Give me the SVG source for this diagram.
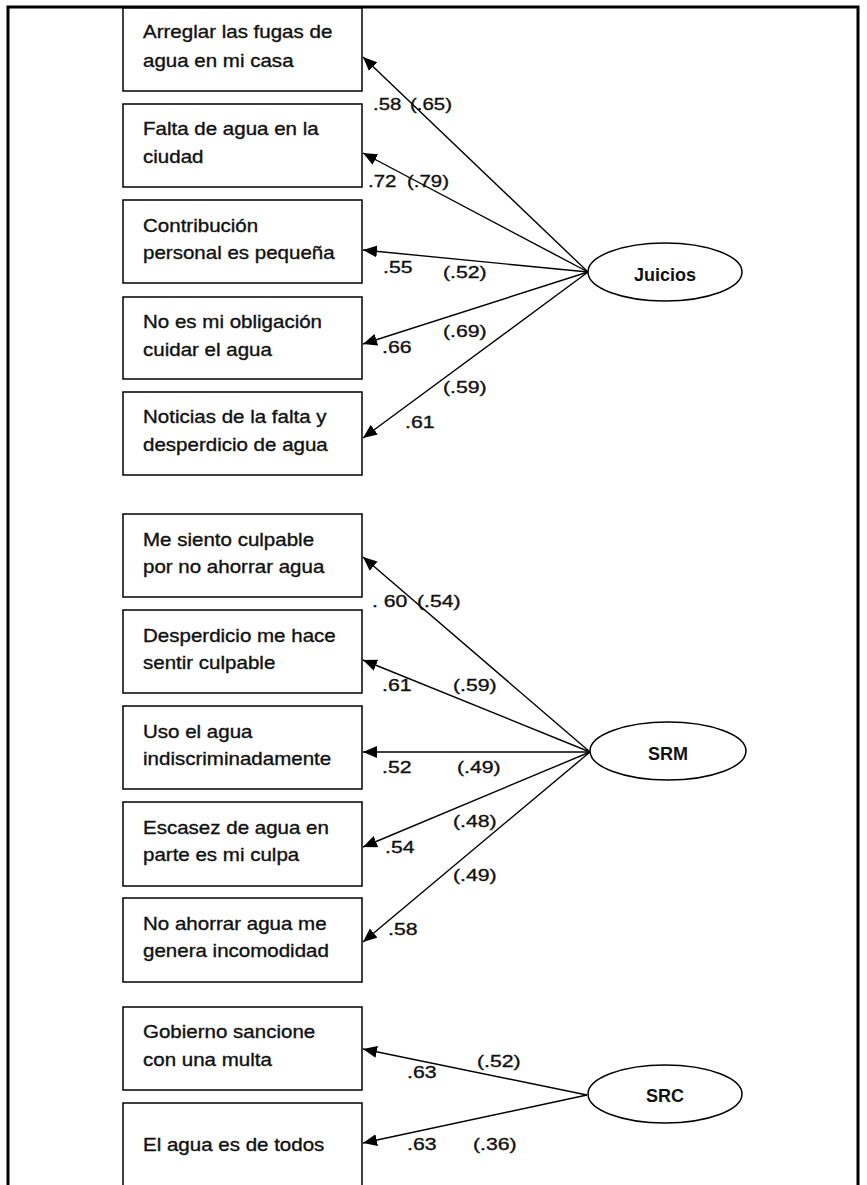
<svg xmlns="http://www.w3.org/2000/svg" width="867" height="1185" viewBox="0 0 867 1185">
<defs>
<style>
.frame{fill:none;stroke:#000;stroke-width:3}
.box{fill:#fff;stroke:#000;stroke-width:1.5}
.ell{fill:#fff;stroke:#000;stroke-width:1.5}
.t{font-family:"Liberation Sans",Arial,sans-serif;font-size:18px;fill:#111;stroke:#111;stroke-width:0.35}
.n{font-family:"Liberation Sans",Arial,sans-serif;font-size:17px;fill:#111;stroke:#111;stroke-width:0.35}
.e{font-family:"Liberation Sans",Arial,sans-serif;font-size:18px;font-weight:bold;fill:#111;text-anchor:middle}
.c{stroke:#000;stroke-width:1.4;fill:none;marker-end:url(#arr)}
</style>
<marker id="arr" markerUnits="userSpaceOnUse" markerWidth="15" markerHeight="13" refX="14" refY="6" orient="auto">
<path d="M0,0 L14,6 L0,12 z" fill="#000"/>
</marker>
</defs>
<rect width="867" height="1185" fill="#fff"/>
<path class="frame" d="M8,1190 V7 H858 V1190"/>

<g id="connectors">
<line class="c" x1="588" y1="272" x2="363" y2="57"/>
<line class="c" x1="588" y1="272" x2="363" y2="153"/>
<line class="c" x1="588" y1="272" x2="363" y2="250"/>
<line class="c" x1="588" y1="272" x2="363" y2="344"/>
<line class="c" x1="588" y1="272" x2="363" y2="438"/>
<line class="c" x1="590" y1="752" x2="363" y2="557"/>
<line class="c" x1="590" y1="752" x2="363" y2="660"/>
<line class="c" x1="590" y1="752" x2="363" y2="752"/>
<line class="c" x1="590" y1="752" x2="363" y2="847"/>
<line class="c" x1="590" y1="752" x2="363" y2="942"/>
<line class="c" x1="587" y1="1095" x2="363" y2="1049"/>
<line class="c" x1="587" y1="1095" x2="363" y2="1143"/>
</g>

<g id="labels">
<text class="n" transform="matrix(1.2 0 0 1 373 110)">.58</text>
<text class="n" transform="matrix(1.2 0 0 1 410 110)">(.65)</text>
<text class="n" transform="matrix(1.2 0 0 1 368 187)">.72</text>
<text class="n" transform="matrix(1.2 0 0 1 407 187)">(.79)</text>
<text class="n" transform="matrix(1.25 0 0 1 383 273)">.55</text>
<text class="n" transform="matrix(1.25 0 0 1 443 278)">(.52)</text>
<text class="n" transform="matrix(1.25 0 0 1 443 337)">(.69)</text>
<text class="n" transform="matrix(1.25 0 0 1 382 353)">.66</text>
<text class="n" transform="matrix(1.25 0 0 1 443 393)">(.59)</text>
<text class="n" transform="matrix(1.25 0 0 1 405 428)">.61</text>

<text class="n" transform="matrix(1.25 0 0 1 372 607)">. 60</text>
<text class="n" transform="matrix(1.25 0 0 1 417 607)">(.54)</text>
<text class="n" transform="matrix(1.25 0 0 1 382 691)">.61</text>
<text class="n" transform="matrix(1.25 0 0 1 453 691)">(.59)</text>
<text class="n" transform="matrix(1.25 0 0 1 382 773)">.52</text>
<text class="n" transform="matrix(1.25 0 0 1 457 773)">(.49)</text>
<text class="n" transform="matrix(1.25 0 0 1 453 827)">(.48)</text>
<text class="n" transform="matrix(1.25 0 0 1 385 853)">.54</text>
<text class="n" transform="matrix(1.25 0 0 1 453 881)">(.49)</text>
<text class="n" transform="matrix(1.25 0 0 1 388 935)">.58</text>

<text class="n" transform="matrix(1.25 0 0 1 477 1067)">(.52)</text>
<text class="n" transform="matrix(1.25 0 0 1 407 1078)">.63</text>
<text class="n" transform="matrix(1.25 0 0 1 407 1150)">.63</text>
<text class="n" transform="matrix(1.25 0 0 1 473 1150)">(.36)</text>
</g>

<g id="n1"><rect class="box" x="123" y="8" width="239" height="83"/>
<text class="t" transform="matrix(1.14 0 0 1 143 38)">Arreglar las fugas de</text>
<text class="t" transform="matrix(1.14 0 0 1 143 67)">agua en mi casa</text></g>
<g id="n2"><rect class="box" x="123" y="104" width="239" height="83"/>
<text class="t" transform="matrix(1.14 0 0 1 143 135)">Falta de agua en la</text>
<text class="t" transform="matrix(1.14 0 0 1 143 163)">ciudad</text></g>
<g id="n3"><rect class="box" x="123" y="200" width="239" height="83"/>
<text class="t" transform="matrix(1.14 0 0 1 143 232)">Contribución</text>
<text class="t" transform="matrix(1.14 0 0 1 143 259)">personal es pequeña</text></g>
<g id="n4"><rect class="box" x="123" y="297" width="239" height="82"/>
<text class="t" transform="matrix(1.14 0 0 1 143 328)">No es mi obligación</text>
<text class="t" transform="matrix(1.14 0 0 1 143 356)">cuidar el agua</text></g>
<g id="n5"><rect class="box" x="123" y="392" width="239" height="83"/>
<text class="t" transform="matrix(1.14 0 0 1 143 423)">Noticias de la falta y</text>
<text class="t" transform="matrix(1.14 0 0 1 143 451)">desperdicio de agua</text></g>

<g id="n6"><rect class="box" x="123" y="514" width="239" height="83"/>
<text class="t" transform="matrix(1.14 0 0 1 143 546)">Me siento culpable</text>
<text class="t" transform="matrix(1.14 0 0 1 143 573)">por no ahorrar agua</text></g>
<g id="n7"><rect class="box" x="123" y="610" width="239" height="83"/>
<text class="t" transform="matrix(1.14 0 0 1 143 642)">Desperdicio me hace</text>
<text class="t" transform="matrix(1.14 0 0 1 143 669)">sentir culpable</text></g>
<g id="n8"><rect class="box" x="123" y="706" width="239" height="83"/>
<text class="t" transform="matrix(1.14 0 0 1 143 738)">Uso el agua</text>
<text class="t" transform="matrix(1.14 0 0 1 143 765)">indiscriminadamente</text></g>
<g id="n9"><rect class="box" x="123" y="802" width="239" height="84"/>
<text class="t" transform="matrix(1.14 0 0 1 143 834)">Escasez de agua en</text>
<text class="t" transform="matrix(1.14 0 0 1 143 861)">parte es mi culpa</text></g>
<g id="n10"><rect class="box" x="123" y="898" width="239" height="84"/>
<text class="t" transform="matrix(1.14 0 0 1 143 930)">No ahorrar agua me</text>
<text class="t" transform="matrix(1.14 0 0 1 143 957)">genera incomodidad</text></g>

<g id="n11"><rect class="box" x="123" y="1007" width="239" height="83"/>
<text class="t" transform="matrix(1.14 0 0 1 143 1038)">Gobierno sancione</text>
<text class="t" transform="matrix(1.14 0 0 1 143 1066)">con una multa</text></g>
<g id="n12"><rect class="box" x="123" y="1103" width="239" height="100"/>
<text class="t" transform="matrix(1.14 0 0 1 143 1151)">El agua es de todos</text></g>

<g id="juicios"><ellipse class="ell" cx="665" cy="272" rx="77" ry="29"/>
<text class="e" x="665" y="281">Juicios</text></g>
<g id="srm"><ellipse class="ell" cx="668" cy="751" rx="78" ry="29"/>
<text class="e" x="668" y="760">SRM</text></g>
<g id="src"><ellipse class="ell" cx="665" cy="1094" rx="77" ry="29"/>
<text class="e" x="665" y="1102">SRC</text></g>
</svg>
